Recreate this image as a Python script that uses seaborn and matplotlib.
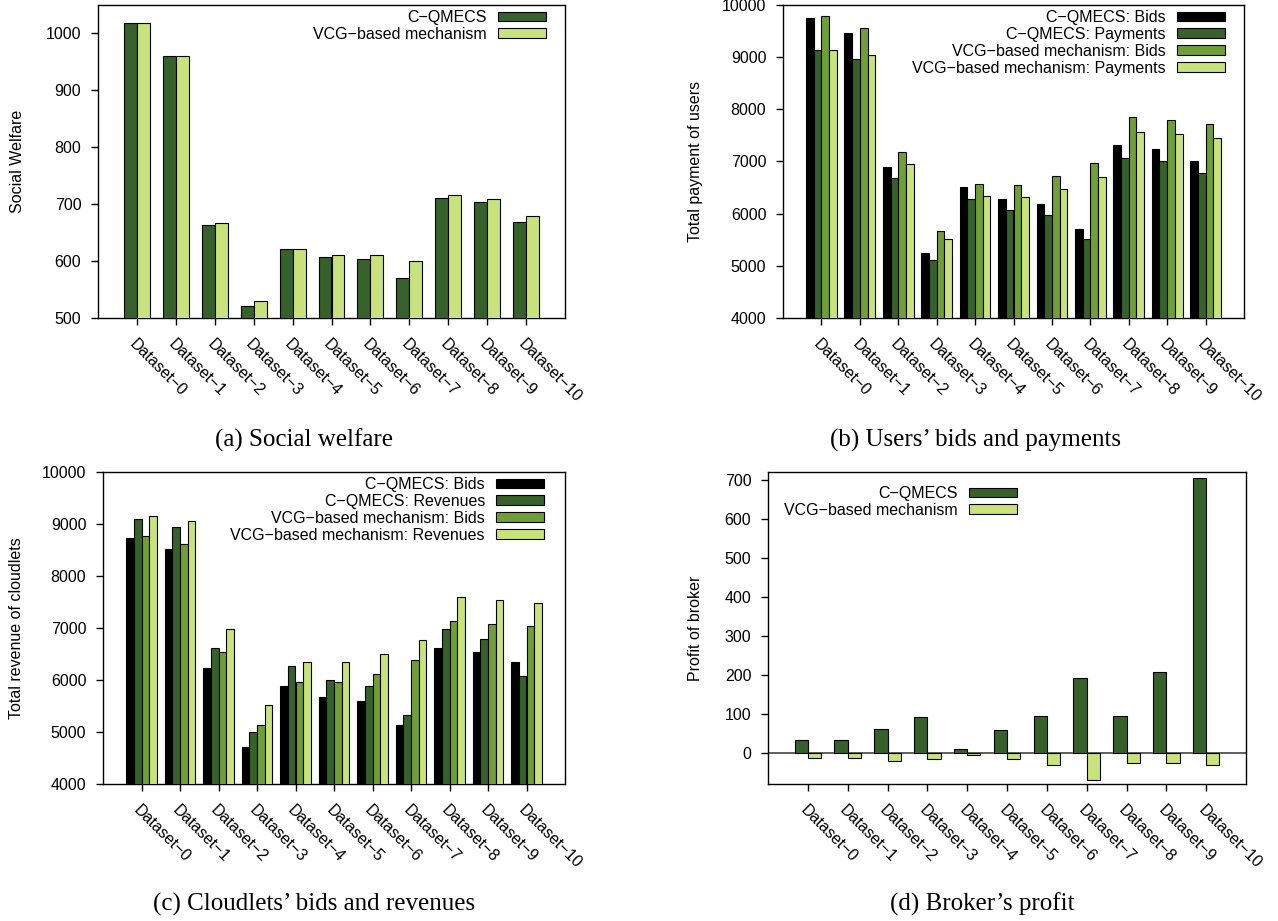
import numpy as np
import pandas as pd
import matplotlib
matplotlib.use("Agg")
import matplotlib.pyplot as plt
import seaborn as sns
from matplotlib.patches import Patch

# ---------------- data ----------------
datasets = [f"Dataset\u2212{i}" for i in range(11)]

welfare_cqmecs = [1019, 960, 664, 521, 621, 608, 603, 570, 711, 704, 668]
welfare_vcg = [1019, 961, 667, 529, 621, 610, 610, 600, 716, 709, 680]

users_cqmecs_bids = [9745, 9456, 6897, 5244, 6502, 6278, 6189, 5697, 7325, 7242, 7012]
users_cqmecs_pay = [9137, 8965, 6680, 5110, 6285, 6068, 5972, 5519, 7076, 7000, 6789]
users_vcg_bids = [9788, 9552, 7191, 5666, 6565, 6553, 6719, 6980, 7861, 7797, 7727]
users_vcg_pay = [9137, 9035, 6961, 5512, 6336, 6317, 6470, 6712, 7574, 7523, 7452]

cloud_cqmecs_bids = [8738, 8526, 6234, 4717, 5889, 5677, 5588, 5127, 6612, 6542, 6343]
cloud_cqmecs_rev = [9103, 8942, 6618, 5005, 6273, 6004, 5876, 5325, 6977, 6791, 6074]
cloud_vcg_bids = [8770, 8622, 6542, 5133, 5953, 5953, 6119, 6388, 7143, 7086, 7047]
cloud_vcg_rev = [9154, 9058, 6977, 5524, 6350, 6337, 6497, 6778, 7604, 7547, 7483]

profit_cqmecs = [32, 34, 62, 93, 9, 58, 95, 193, 95, 208, 705]
profit_vcg = [-14, -14, -21, -16, -6, -15, -31, -69, -25, -27, -32]

# ---------------- style ----------------
BLACK = "#000000"
DARK = "#37612b"
MID = "#6f9f36"
LIGHT = "#c9e27b"

sns.set_style("ticks")
plt.rcParams["font.family"] = ["Liberation Sans", "DejaVu Sans"]
plt.rcParams["font.size"] = 11.5
plt.rcParams["text.color"] = "black"
plt.rcParams["axes.labelcolor"] = "black"
plt.rcParams["axes.linewidth"] = 1.0
plt.rcParams["axes.edgecolor"] = "black"
plt.rcParams["xtick.color"] = "black"
plt.rcParams["ytick.color"] = "black"
plt.rcParams["xtick.labelcolor"] = "black"
plt.rcParams["ytick.labelcolor"] = "black"

W, H = 1278, 921
fig = plt.figure(figsize=(W / 100, H / 100), dpi=100)


def add_axes(left, right, top, bottom):
    return fig.add_axes([left / W, 1 - bottom / H, (right - left) / W, (bottom - top) / H])


def grouped_bars(ax, series, names, colors, width):
    n = len(datasets)
    df = pd.DataFrame({
        "Dataset": np.tile(datasets, len(series)),
        "Series": np.repeat(names, n),
        "Value": np.concatenate([np.asarray(s, float) for s in series]),
    })
    sns.barplot(data=df, x="Dataset", y="Value", hue="Series", hue_order=names,
                palette=colors, width=width, saturation=1, errorbar=None,
                edgecolor="black", linewidth=0.8, legend=False, ax=ax, zorder=3)


def style_axes(ax, ylim, yticks, ylabel, label_x):
    ax.set_xlim(-1, 11)
    ax.set_ylim(*ylim)
    ax.set_yticks(yticks)
    ax.set_xlabel("")
    ax.set_ylabel(ylabel, fontsize=11.5, color="black")
    ax.yaxis.set_label_coords(label_x, 0.5)
    for s in ax.spines.values():
        s.set_visible(True)
        s.set_linewidth(1.0)
        s.set_color("black")
    ax.tick_params(axis="both", direction="out", length=5, width=1.0,
                   labelsize=11.5, top=False, right=False,
                   color="black", labelcolor="black")
    ax.tick_params(axis="y", pad=7)
    ax.tick_params(axis="x", pad=8)
    ax.set_xticks(range(len(datasets)))
    ax.set_xticklabels(datasets, rotation=-45, ha="left", va="top",
                       rotation_mode="anchor")


def legend(ax, names, colors, right, top):
    handles = [Patch(facecolor=c, edgecolor="black", linewidth=0.8) for c in colors]
    leg = ax.legend(handles, names, loc="upper right",
                    bbox_to_anchor=(right / W, 1 - top / H), bbox_transform=fig.transFigure,
                    frameon=False, markerfirst=False, handlelength=3.0, handleheight=0.55,
                    handletextpad=0.7, labelspacing=0.12, borderpad=0, borderaxespad=0,
                    fontsize=11.5)
    for t in leg.get_texts():
        t.set_color("black")


# (a) social welfare
ax_a = add_axes(98, 565, 5, 318)
names_a = ["C\u2212QMECS", "VCG\u2212based mechanism"]
grouped_bars(ax_a, [welfare_cqmecs, welfare_vcg], names_a, [DARK, LIGHT], 2 / 3)
style_axes(ax_a, (500, 1050), [500, 600, 700, 800, 900, 1000], "Social Welfare", -0.156)
legend(ax_a, names_a, [DARK, LIGHT], 546, 10)

# (b) users' bids and payments
ax_b = add_axes(783, 1244, 5, 318)
names_b = ["C\u2212QMECS: Bids", "C\u2212QMECS: Payments",
           "VCG\u2212based mechanism: Bids", "VCG\u2212based mechanism: Payments"]
grouped_bars(ax_b, [users_cqmecs_bids, users_cqmecs_pay, users_vcg_bids, users_vcg_pay],
             names_b, [BLACK, DARK, MID, LIGHT], 0.8)
style_axes(ax_b, (4000, 10000), range(4000, 10001, 1000), "Total payment of users", -0.174)
legend(ax_b, names_b, [BLACK, DARK, MID, LIGHT], 1225, 10)

# (c) cloudlets' bids and revenues
ax_c = add_axes(103, 565, 472, 784)
names_c = ["C\u2212QMECS: Bids", "C\u2212QMECS: Revenues",
           "VCG\u2212based mechanism: Bids", "VCG\u2212based mechanism: Revenues"]
grouped_bars(ax_c, [cloud_cqmecs_bids, cloud_cqmecs_rev, cloud_vcg_bids, cloud_vcg_rev],
             names_c, [BLACK, DARK, MID, LIGHT], 0.8)
style_axes(ax_c, (4000, 10000), range(4000, 10001, 1000), "Total revenue of cloudlets", -0.171)
legend(ax_c, names_c, [BLACK, DARK, MID, LIGHT], 544, 477)

# (d) broker's profit
ax_d = add_axes(768, 1246, 472, 784)
names_d = ["C\u2212QMECS", "VCG\u2212based mechanism"]
grouped_bars(ax_d, [profit_cqmecs, profit_vcg], names_d, [DARK, LIGHT], 2 / 3)
ax_d.axhline(0, color="#444444", linewidth=1.2, zorder=2)
style_axes(ax_d, (-80, 720), range(0, 701, 100), "Profit of broker", -0.136)
legend(ax_d, names_d, [DARK, LIGHT], 1017, 486)

# sub-figure captions
cap = dict(family=["Liberation Serif", "DejaVu Serif"], fontsize=18, ha="center",
           va="baseline", color="black")
fig.text(304 / W, 1 - 447 / H, "(a) Social welfare", **cap)
fig.text(975 / W, 1 - 447 / H, "(b) Users\u2019 bids and payments", **cap)
fig.text(314 / W, 1 - 911 / H, "(c) Cloudlets\u2019 bids and revenues", **cap)
fig.text(982 / W, 1 - 911 / H, "(d) Broker\u2019s profit", **cap)

fig.savefig("out.png", dpi=100)
